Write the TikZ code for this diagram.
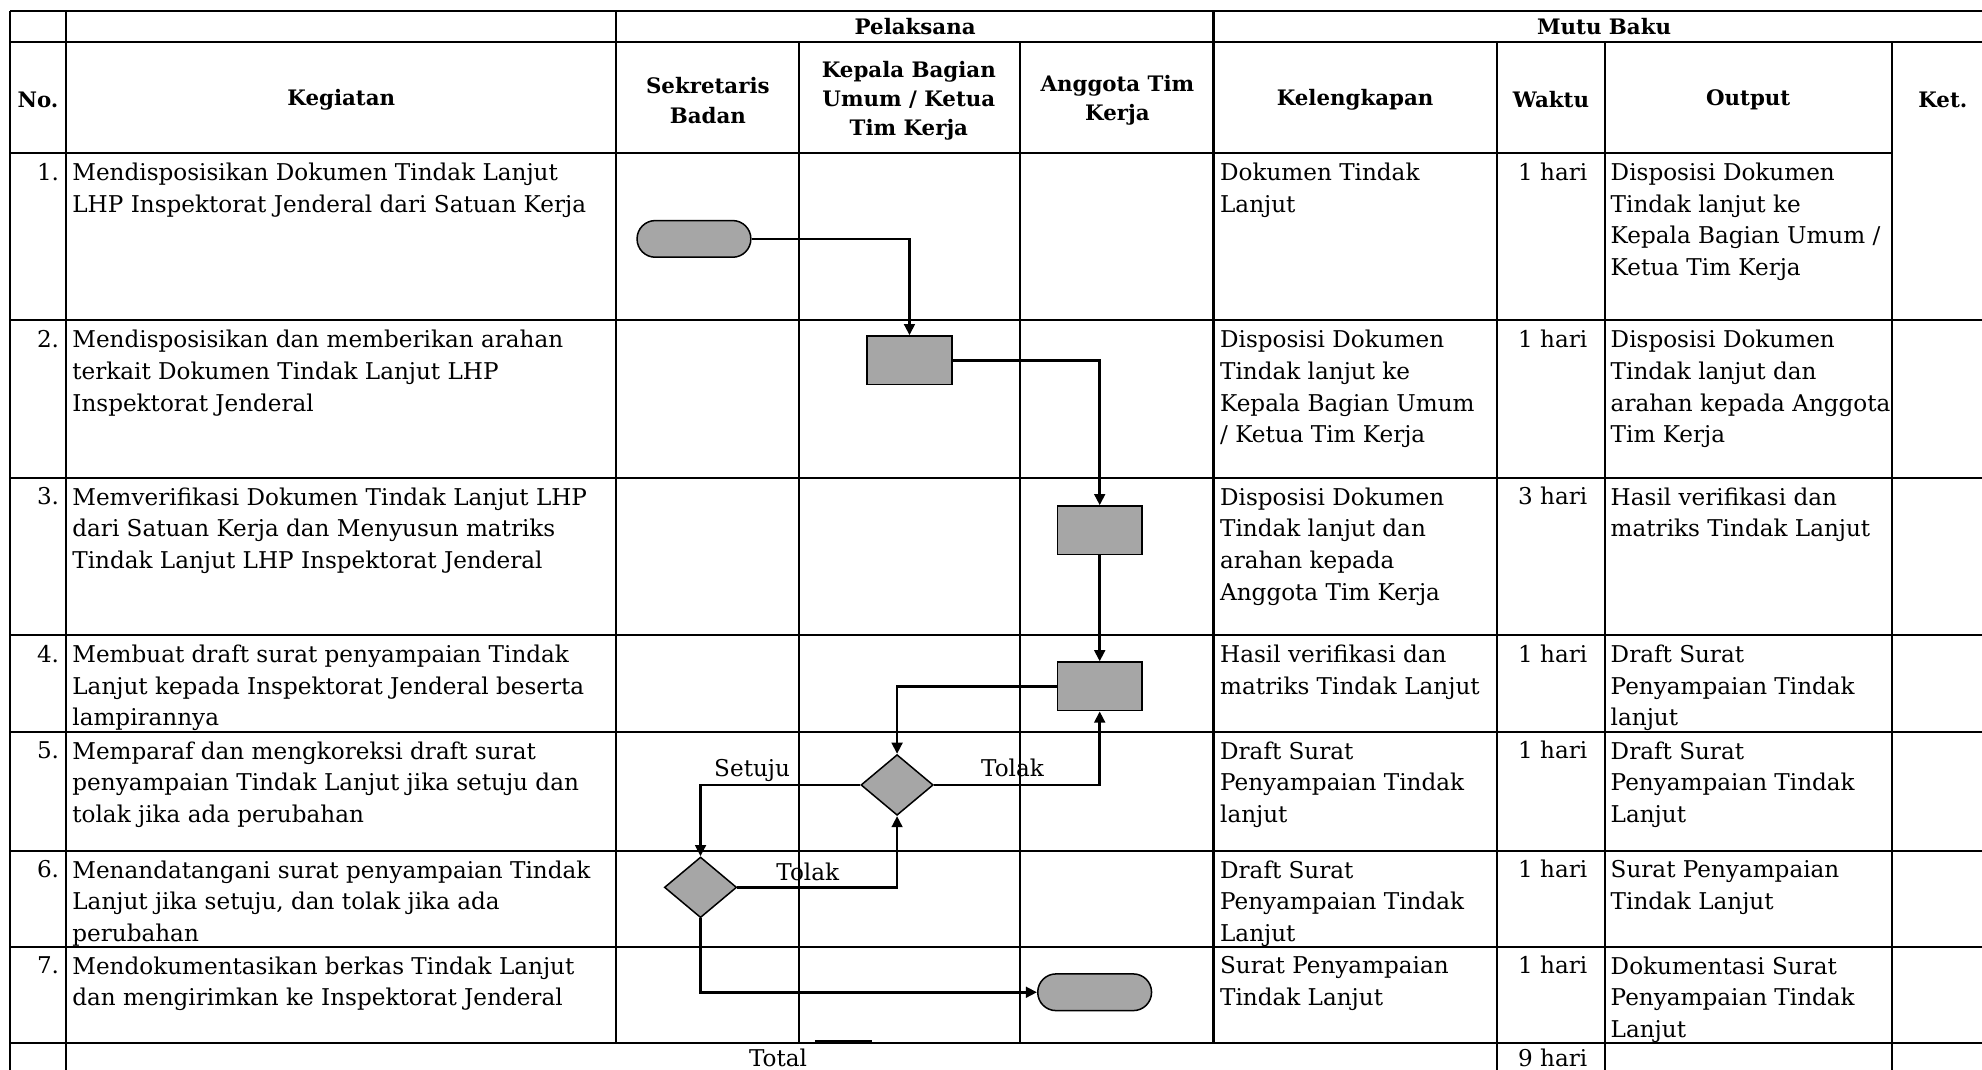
\documentclass[tikz,border=0pt]{standalone}
\usepackage{fontspec}
\setmainfont{DejaVu Serif}
\usetikzlibrary{arrows.meta,shapes.geometric}

\begin{document}
\begin{tikzpicture}[x=0.025cm,y=-0.025cm,
		grid/.style={line width=1.2pt},
		flow/.style={line width=1.5pt,-{Triangle[length=2.2mm,width=2.1mm]}},
		proc/.style={draw,line width=0.85pt,fill=black!35,minimum width=1.675cm,minimum height=0.96cm,inner sep=0pt},
		term/.style={draw,line width=0.85pt,fill=black!35,rounded corners=0.36cm,minimum width=2.25cm,minimum height=0.725cm,inner sep=0pt},
		decision/.style={draw,diamond,line width=0.85pt,fill=black!35,minimum width=1.43cm,minimum height=1.2cm,inner sep=0pt},
		head/.style={font=\bfseries\fontsize{12}{16.4}\selectfont,align=center,inner sep=0pt},
		txt/.style={font=\fontsize{13}{17.8}\selectfont,align=left,anchor=north west,inner sep=0pt},
		num/.style={font=\fontsize{13}{17.8}\selectfont,anchor=base east,inner sep=0pt},
		lbl/.style={font=\fontsize{13}{17.8}\selectfont,anchor=base,inner sep=0pt}
	]
	\useasboundingbox (0,0) rectangle (1568,846);
	\clip (0,0) rectangle (1568,846);

	\draw[grid] (8,9) -- (1600,9);
	\draw[grid] (8,33.5) -- (1600,33.5);
	\draw[grid] (8,121) -- (1497,121);
	\draw[grid] (8,253.5) -- (1600,253.5);
	\draw[grid] (8,378) -- (1600,378);
	\draw[grid] (8,502.4) -- (1600,502.4);
	\draw[grid] (8,578.8) -- (1600,578.8);
	\draw[grid] (8,673) -- (1600,673);
	\draw[grid] (8,749) -- (1600,749);
	\draw[grid] (8,825) -- (1600,825);

	\draw[grid] (8,9) -- (8,870);
	\draw[grid] (52,9) -- (52,870);
	\draw[grid] (487,9) -- (487,825);
	\draw[grid] (632,33.5) -- (632,825);
	\draw[grid] (807,33.5) -- (807,825);
	\draw[grid] (960,9) -- (960,825);
	\draw[grid] (1184,33.5) -- (1184,870);
	\draw[grid] (1270,33.5) -- (1270,870);
	\draw[grid] (1497,33.5) -- (1497,870);
	\fill (645,822.5) rectangle (690,825);

	\node[head] (pelaksana) at (724,21) {Pelaksana};
	\node[head] (mutubaku) at (1269,21) {Mutu Baku};
	\node[head] (hno) at (30,79) {No.};
	\node[head] (hkegiatan) at (270,79) {Kegiatan};
	\node[head] (hsekretaris) at (560,79.5) {Sekretaris\\Badan};
	\node[head] (hkepala) at (719,79.5) {Kepala Bagian\\Umum / Ketua\\Tim Kerja};
	\node[head] (hanggota) at (884,79.5) {Anggota Tim\\Kerja};
	\node[head] (hkelengkapan) at (1072,79) {Kelengkapan};
	\node[head] (hwaktu) at (1227,79) {Waktu};
	\node[head] (houtput) at (1383,79) {Output};
	\node[head] (hket) at (1537,79) {Ket.};

	\node[num] (no1) at (47,142.5) {1.};
	\node[num] (no2) at (47,275) {2.};
	\node[num] (no3) at (47,399.5) {3.};
	\node[num] (no4) at (47,524) {4.};
	\node[num] (no5) at (47,600.3) {5.};
	\node[num] (no6) at (47,694.5) {6.};
	\node[num] (no7) at (47,770.5) {7.};

	\node[txt] (keg1) at (57,128.6) {Mendisposisikan Dokumen Tindak Lanjut\\LHP Inspektorat Jenderal dari Satuan Kerja};
	\node[txt] (keg2) at (57,261.1) {Mendisposisikan dan memberikan arahan\\terkait Dokumen Tindak Lanjut LHP\\Inspektorat Jenderal};
	\node[txt] (keg3) at (57,385.6) {Memverifikasi Dokumen Tindak Lanjut LHP\\dari Satuan Kerja dan Menyusun matriks\\Tindak Lanjut LHP Inspektorat Jenderal};
	\node[txt] (keg4) at (57,510.1) {Membuat draft surat penyampaian Tindak\\Lanjut kepada Inspektorat Jenderal beserta\\lampirannya};
	\node[txt] (keg5) at (57,586.4) {Memparaf dan mengkoreksi draft surat\\penyampaian Tindak Lanjut jika setuju dan\\tolak jika ada perubahan};
	\node[txt] (keg6) at (57,680.6) {Menandatangani surat penyampaian Tindak\\Lanjut jika setuju, dan tolak jika ada\\perubahan};
	\node[txt] (keg7) at (57,756.6) {Mendokumentasikan berkas Tindak Lanjut\\dan mengirimkan ke Inspektorat Jenderal};

	\node[txt] (kel1) at (965,128.6) {Dokumen Tindak\\Lanjut};
	\node[txt] (kel2) at (965,261.1) {Disposisi Dokumen\\Tindak lanjut ke\\Kepala Bagian Umum\\/ Ketua Tim Kerja};
	\node[txt] (kel3) at (965,385.6) {Disposisi Dokumen\\Tindak lanjut dan\\arahan kepada\\Anggota Tim Kerja};
	\node[txt] (kel4) at (965,510.1) {Hasil verifikasi dan\\matriks Tindak Lanjut};
	\node[txt] (kel5) at (965,586.4) {Draft Surat\\Penyampaian Tindak\\lanjut};
	\node[txt] (kel6) at (965,680.6) {Draft Surat\\Penyampaian Tindak\\Lanjut};
	\node[txt] (kel7) at (965,756.6) {Surat Penyampaian\\Tindak Lanjut};

	\node[num] (wkt1) at (1256,142.5) {1 hari};
	\node[num] (wkt2) at (1256,275) {1 hari};
	\node[num] (wkt3) at (1256,399.5) {3 hari};
	\node[num] (wkt4) at (1256,524) {1 hari};
	\node[num] (wkt5) at (1256,600.3) {1 hari};
	\node[num] (wkt6) at (1256,694.5) {1 hari};
	\node[num] (wkt7) at (1256,770.5) {1 hari};
	\node[num] (wkttotal) at (1256,844) {9 hari};
	\node[lbl] (total) at (615.5,844) {Total};

	\node[txt] (out1) at (1274,128.6) {Disposisi Dokumen\\Tindak lanjut ke\\Kepala Bagian Umum /\\Ketua Tim Kerja};
	\node[txt] (out2) at (1274,261.1) {Disposisi Dokumen\\Tindak lanjut dan\\arahan kepada Anggota\\Tim Kerja};
	\node[txt] (out3) at (1274,385.6) {Hasil verifikasi dan\\matriks Tindak Lanjut};
	\node[txt] (out4) at (1274,510.1) {Draft Surat\\Penyampaian Tindak\\lanjut};
	\node[txt] (out5) at (1274,586.4) {Draft Surat\\Penyampaian Tindak\\Lanjut};
	\node[txt] (out6) at (1274,680.6) {Surat Penyampaian\\Tindak Lanjut};
	\node[txt] (out7) at (1274,756.6) {Dokumentasi Surat\\Penyampaian Tindak\\Lanjut};

	\node[term] (mulai) at (549,189) {};
	\node[proc] (disposisi) at (719.5,285) {};
	\node[proc] (verifikasi) at (870,419.5) {};
	\node[proc] (draft) at (870,543) {};
	\node[decision] (paraf) at (709.7,621) {};
	\node[decision] (tandatangan) at (554.2,702) {};
	\node[term] (selesai) at (866,785) {};

	\draw[flow] (mulai) -| (disposisi);
	\draw[flow] (disposisi) -| (verifikasi);
	\draw[flow] (verifikasi) -- (draft);
	\draw[flow] (draft) -| (paraf);
	\draw[flow] (paraf) -| (draft);
	\draw[flow] (paraf) -| (tandatangan);
	\draw[flow] (tandatangan) -| (paraf);
	\draw[flow] (tandatangan) |- (selesai);

	\node[lbl] (setuju) at (595,614.5) {Setuju};
	\node[lbl] (tolak1) at (801,614.5) {Tolak};
	\node[lbl] (tolak2) at (639,696.5) {Tolak};
\end{tikzpicture}
\end{document}
